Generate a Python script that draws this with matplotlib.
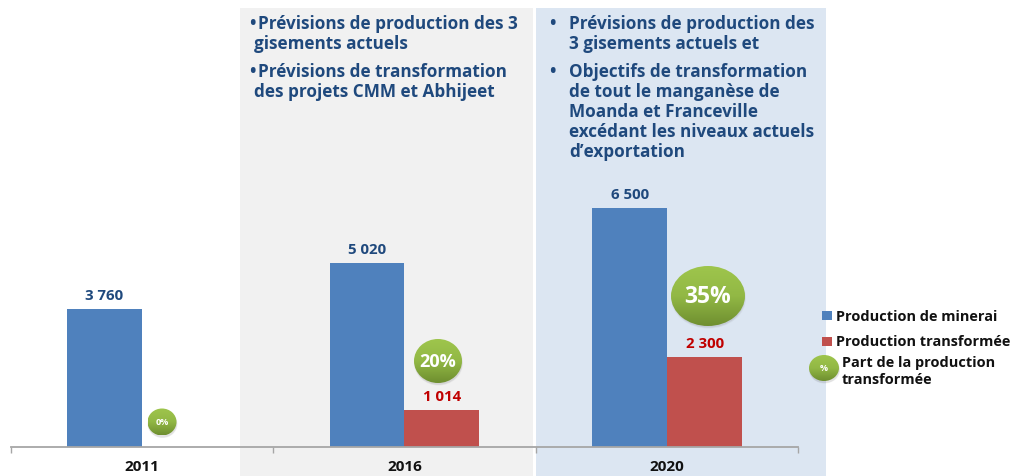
import numpy as np
import matplotlib
matplotlib.use("Agg")
import matplotlib.pyplot as plt
from matplotlib.patches import Ellipse, Rectangle
from matplotlib.colors import LinearSegmentedColormap

years = ["2011", "2016", "2020"]
minerai = [3760, 5020, 6500]
transformee = [0, 1014, 2460]
minerai_labels = ["3 760", "5 020", "6 500"]
transformee_labels = ["", "1 014", "2 300"]
parts = ["0%", "20%", "35%"]

W, H = 1014, 477
BLUE, RED, NAVY, DARKRED = "#4F81BD", "#C0504D", "#1F497D", "#C00000"
plt.rcParams['font.family'] = ['Open Sans', 'DejaVu Sans']

fig = plt.figure(figsize=(W/100, H/100), dpi=100, facecolor="white")

bg = fig.add_axes([0, 0, 1, 1], zorder=0)
bg.set_xlim(0, W); bg.set_ylim(H, 0); bg.axis("off")
bg.add_patch(Rectangle((240, 8.5), 293, 469, fc="#F1F1F1", ec="none"))
bg.add_patch(Rectangle((536, 8.5), 290, 469, fc="#DCE6F2", ec="none"))

ax = fig.add_axes([10.5/W, 1-448/H, 788/W, 448/H], zorder=1)
ax.patch.set_alpha(0)
scale = 12200
x = np.arange(len(years))
w = 75/262.67
ax.bar(x - w/2, minerai, w, color=BLUE, zorder=2)
ax.bar(x + w/2, transformee, w, color=RED, zorder=2)
ax.set_xlim(-0.5, 2.5); ax.set_ylim(0, scale)
for s in ("top", "left", "right"):
    ax.spines[s].set_visible(False)
ax.spines["bottom"].set_color("#A6A6A6"); ax.spines["bottom"].set_linewidth(1.3)
ax.set_yticks([])
ax.set_xticks(np.arange(-0.5, 3, 1), labels=[])
ax.tick_params(axis="x", length=4, color="#A6A6A6", width=1)
for xi, y in zip(x, years):
    ax.annotate(y, (xi, 0), xytext=(0, -19), textcoords="offset pixels", ha="center", va="center",
                fontsize=11, fontweight="bold", color="#111111")
for xi, v, l in zip(x, minerai, minerai_labels):
    ax.annotate(l, (xi - w/2, v), xytext=(0, 14), textcoords="offset pixels", ha="center", va="center",
                fontsize=10.8, fontweight="bold", color=NAVY)
for xi, v, l in zip(x, transformee, transformee_labels):
    if l:
        ax.annotate(l, (xi + w/2, v), xytext=(0, 14), textcoords="offset pixels", ha="center", va="center",
                    fontsize=10.8, fontweight="bold", color=DARKRED)

top = fig.add_axes([0, 0, 1, 1], zorder=2)
top.set_xlim(0, W); top.set_ylim(H, 0); top.axis("off")
cmap = LinearSegmentedColormap.from_list("g", ["#9EC54C", "#92B845", "#6F8F30"])
grad = np.linspace(0, 1, 64).reshape(-1, 1)

def bubble(cx, cy, rx, ry, label, fs):
    for k, a in ((1.0, .06), (0.97, .10)):
        top.add_patch(Ellipse((cx+0.5, cy+2), 2*rx*k+1, 2*ry*k+1, fc="#444444", ec="none", alpha=a))
    e = Ellipse((cx, cy), 2*rx, 2*ry, fc="none", ec="none")
    top.add_patch(e)
    im = top.imshow(grad, cmap=cmap, extent=(cx-rx, cx+rx, cy+ry, cy-ry), aspect="auto", zorder=3)
    im.set_clip_path(e)
    top.text(cx, cy, label, ha="center", va="center", color="white", fontweight="bold", fontsize=fs, zorder=4)

bubble(162, 423, 14.5, 13.5, parts[0], 6.5)
bubble(438, 362, 24, 22, parts[1], 13)
bubble(708, 297, 37, 30, parts[2], 16.5)
bubble(824, 369, 15, 13, "%", 6.5)
top.set_xlim(0, W); top.set_ylim(H, 0)

txt = dict(color=NAVY, fontweight="bold", fontsize=12.3, va="center", ha="left")
top.text(249, 24, "•", **txt); top.text(258, 24, "Prévisions de production des 3", **txt)
top.text(254, 44, "gisements actuels", **txt)
top.text(249, 72, "•", **txt); top.text(258, 72, "Prévisions de transformation", **txt)
top.text(254, 92, "des projets CMM et Abhijeet", **txt)

top.text(549, 24, "•", **txt); top.text(569, 24, "Prévisions de production des", **txt)
top.text(569, 44, "3 gisements actuels et", **txt)
top.text(549, 72, "•", **txt)
for yy, s in zip((72, 92, 112, 132, 152),
                 ("Objectifs de transformation", "de tout le manganèse de", "Moanda et Franceville",
                  "excédant les niveaux actuels", "d’exportation")):
    top.text(569, yy, s, **txt)

top.add_patch(Rectangle((822, 312), 10, 9, fc=BLUE, ec="none"))
top.add_patch(Rectangle((822, 338), 10, 9, fc=RED, ec="none"))
leg = dict(color="#111111", fontweight="bold", fontsize=10.45, va="center", ha="left")
top.text(836, 317, "Production de minerai", **leg)
top.text(836, 342, "Production transformée", **leg)
top.text(842, 363, "Part de la production", **leg)
top.text(842, 380, "transformée", **leg)

fig.savefig("out.png", dpi=100)
